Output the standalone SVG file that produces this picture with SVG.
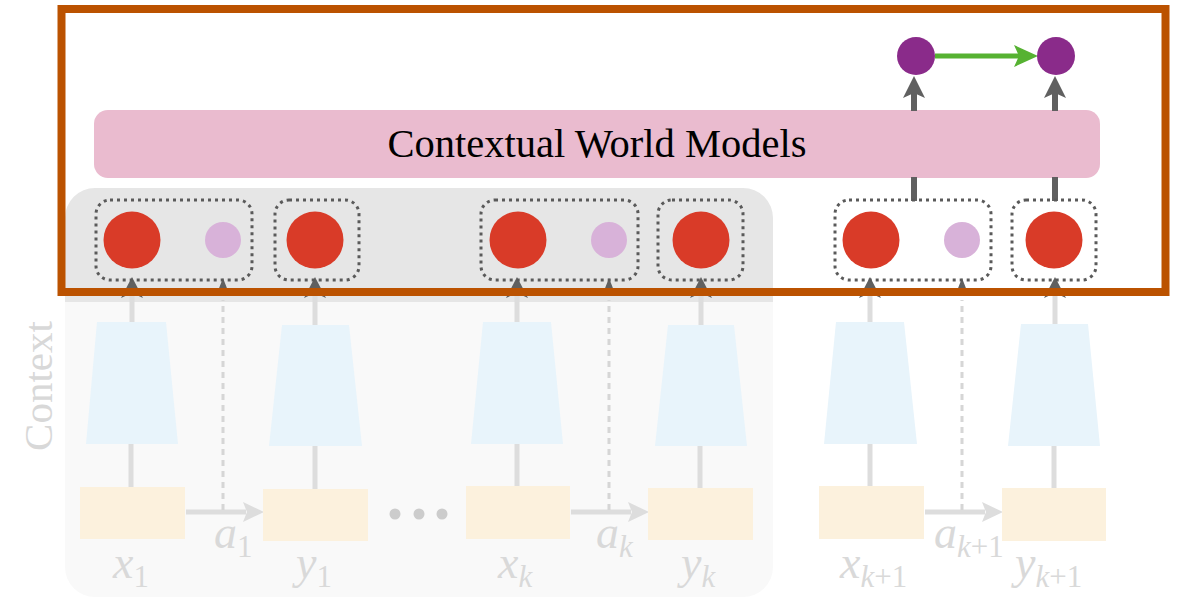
<svg xmlns="http://www.w3.org/2000/svg" width="1179" height="599" viewBox="0 0 1179 599">
<style>
.red{fill:#D93B28}
.lav{fill:#D8B2D9}
.pur{fill:#8A2B8A}
.dot{fill:none;stroke:#5A5A5A;stroke-width:3;stroke-dasharray:3 4}
.enc{fill:#E8F4FB}
.img{fill:#FCF1DD}
.lt{stroke:#DDDDDD;stroke-width:5;fill:none}
.ltd{stroke:#D6D6D6;stroke-width:3;stroke-dasharray:6 5;fill:none}
.dk{stroke:#606060;stroke-width:6;fill:none}
.dkh{fill:#606060}
.lth{fill:#DDDDDD}
.lbl{font-family:"Liberation Serif",serif;font-style:italic;font-size:46px;fill:#D9D9D9}
.sub{font-style:normal;font-size:31px}
.subi{font-style:italic;font-size:31px}
</style>
<rect width="1179" height="599" fill="#FFFFFF"/>
<g id="context">
<path d="M65,302 V218 A30,30 0 0 1 95,188 H743 A30,30 0 0 1 773,218 V302 Z" fill="#E6E6E6"/>
<path d="M65,302 V567 A30,30 0 0 0 95,597 H743 A30,30 0 0 0 773,567 V302 Z" fill="#F9F9F9"/>
<text transform="translate(52,386) rotate(-90)" text-anchor="middle" font-family="Liberation Serif, serif" font-size="41" fill="#D8D8D8">Context</text>
</g>
<g id="cwm">
<rect x="94" y="110" width="1006" height="68" rx="14" fill="#EABBCF"/>
<text x="597" y="157" text-anchor="middle" font-family="Liberation Serif, serif" font-size="40.5" fill="#000000">Contextual World Models</text>
</g>
<g id="connectors">
<line class="lt" x1="131" y1="487" x2="131" y2="444"/>
<line class="lt" x1="315" y1="489" x2="315" y2="446"/>
<line class="lt" x1="517" y1="486" x2="517" y2="444"/>
<line class="lt" x1="700" y1="488" x2="700" y2="446"/>
<line class="lt" x1="870" y1="486" x2="870" y2="444"/>
<line class="lt" x1="1054" y1="488" x2="1054" y2="446"/>
<line class="lt" x1="132" y1="323" x2="132" y2="296"/>
<line class="lt" x1="315" y1="326" x2="315" y2="296"/>
<line class="lt" x1="517" y1="323" x2="517" y2="296"/>
<line class="lt" x1="701" y1="326" x2="701" y2="296"/>
<line class="lt" x1="870" y1="323" x2="870" y2="296"/>
<line class="lt" x1="1055" y1="325" x2="1055" y2="296"/>
<polygon class="dkh" points="132,277 121,298 132,293 143,298"/>
<polygon class="dkh" points="315,277 304,298 315,293 326,298"/>
<polygon class="dkh" points="517,277 506,298 517,293 528,298"/>
<polygon class="dkh" points="701,277 690,298 701,293 712,298"/>
<polygon class="dkh" points="870,277 859,298 870,293 881,298"/>
<polygon class="dkh" points="1055,277 1044,298 1055,293 1066,298"/>
<line class="lt" x1="186" y1="512" x2="246" y2="512"/>
<polygon class="lth" points="264,512 243,502 247,512 243,522"/>
<line class="lt" x1="571" y1="512" x2="631" y2="512"/>
<polygon class="lth" points="649,512 628,502 632,512 628,522"/>
<line class="lt" x1="925" y1="512" x2="985" y2="512"/>
<polygon class="lth" points="1003,512 982,502 986,512 982,522"/>
<line class="ltd" x1="223" y1="510" x2="223" y2="300"/>
<line class="ltd" x1="609" y1="510" x2="609" y2="300"/>
<line class="ltd" x1="962" y1="510" x2="962" y2="300"/>
<polygon class="dkh" points="223,278 216,296 223,293 230,296"/>
<polygon class="dkh" points="609,278 602,296 609,293 616,296"/>
<polygon class="dkh" points="962,278 955,296 962,293 969,296"/>
<line class="dk" x1="914" y1="201" x2="914" y2="177"/>
<line class="dk" x1="1055" y1="201" x2="1055" y2="177"/>
<line class="dk" x1="914" y1="111" x2="914" y2="92"/>
<line class="dk" x1="1055" y1="111" x2="1055" y2="92"/>
<polygon class="dkh" points="914,76 903,98 914,93 925,98"/>
<polygon class="dkh" points="1055,76 1044,98 1055,93 1066,98"/>
<line x1="935" y1="56" x2="1020" y2="56" stroke="#56B232" stroke-width="5"/>
<polygon fill="#56B232" points="1038,56 1014,45 1019,56 1014,67"/>
</g>
<g id="dots">
<circle cx="395" cy="514" r="5.5" fill="#CCCCCC"/>
<circle cx="419" cy="514" r="5.5" fill="#CCCCCC"/>
<circle cx="442" cy="514" r="5.5" fill="#CCCCCC"/>
</g>
<g id="step1">
<rect class="img" x="80" y="487" width="105" height="52"/>
<polygon class="enc" points="97,322 166,322 178,444 86,444"/>
<rect class="dot" x="96" y="200" width="156" height="80" rx="14"/>
<circle class="red" cx="132" cy="240" r="28.5"/>
<circle class="lav" cx="223" cy="240" r="18"/>
<text class="lbl" x="113" y="578">x<tspan class="sub" dy="9">1</tspan></text>
<text class="lbl" x="214" y="548">a<tspan class="sub" dy="9">1</tspan></text>
</g>
<g id="step1y">
<rect class="img" x="263" y="489" width="105" height="52"/>
<polygon class="enc" points="282,325 349,325 362,446 269,446"/>
<rect class="dot" x="275" y="200" width="84" height="80" rx="14"/>
<circle class="red" cx="315" cy="240" r="28.5"/>
<text class="lbl" x="296" y="578">y<tspan class="sub" dy="9">1</tspan></text>
</g>
<g id="stepk">
<rect class="img" x="466" y="486" width="104" height="53"/>
<polygon class="enc" points="483,322 551,322 563,444 471,444"/>
<rect class="dot" x="481" y="200" width="157" height="80" rx="14"/>
<circle class="red" cx="518" cy="240" r="28.5"/>
<circle class="lav" cx="609" cy="240" r="18"/>
<text class="lbl" x="498" y="578">x<tspan class="subi" dy="9">k</tspan></text>
<text class="lbl" x="596" y="548">a<tspan class="subi" dy="9">k</tspan></text>
</g>
<g id="stepky">
<rect class="img" x="648" y="488" width="105" height="52"/>
<polygon class="enc" points="668,325 734,325 747,446 655,446"/>
<rect class="dot" x="658" y="200" width="85" height="80" rx="14"/>
<circle class="red" cx="701" cy="240" r="28.5"/>
<text class="lbl" x="681" y="578">y<tspan class="subi" dy="9">k</tspan></text>
</g>
<g id="stepk1">
<rect class="img" x="819" y="486" width="105" height="53"/>
<polygon class="enc" points="836,322 904,322 917,444 824,444"/>
<rect class="dot" x="835" y="200" width="156" height="80" rx="14"/>
<circle class="red" cx="871" cy="240" r="28.5"/>
<circle class="lav" cx="962" cy="240" r="18"/>
<circle class="pur" cx="916" cy="56" r="19"/>
<text class="lbl" x="840" y="578">x<tspan class="subi" dy="9">k</tspan><tspan class="sub">+1</tspan></text>
<text class="lbl" x="934" y="548">a<tspan class="subi" dy="9">k</tspan><tspan class="sub">+1</tspan></text>
</g>
<g id="stepk1y">
<rect class="img" x="1002" y="488" width="104" height="53"/>
<polygon class="enc" points="1021,324 1088,324 1100,446 1008,446"/>
<rect class="dot" x="1012" y="200" width="84" height="80" rx="14"/>
<circle class="red" cx="1054" cy="240" r="28.5"/>
<circle class="pur" cx="1056" cy="56" r="19"/>
<text class="lbl" x="1015" y="578">y<tspan class="subi" dy="9">k</tspan><tspan class="sub">+1</tspan></text>
</g>
<g id="highlight">
<rect x="61.5" y="9" width="1104" height="283" fill="none" stroke="#BB5200" stroke-width="8"/>
</g>
</svg>
